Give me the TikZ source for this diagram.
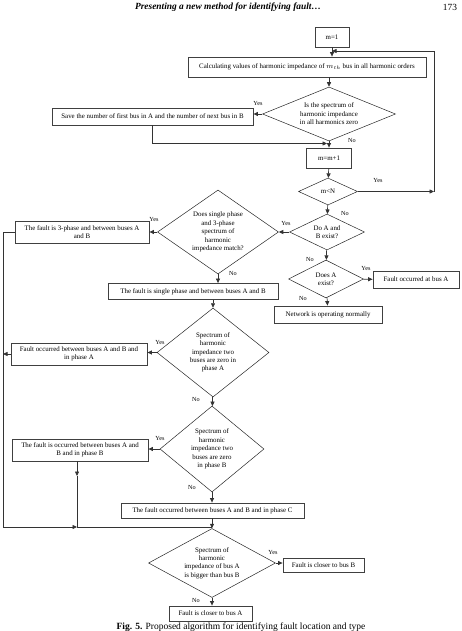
\documentclass[tikz,border=0pt]{standalone}
\usepackage{fontspec}
\setmainfont{Liberation Serif}
\usetikzlibrary{arrows.meta,shapes.geometric,calc}

\begin{document}
\begin{tikzpicture}[x=1pt,y=-1pt,
  font=\fontsize{6.9}{8.4}\selectfont,
  box/.style 2 args={draw=black!75,line width=.8pt,minimum width=#1pt,minimum height=#2pt,inner sep=1pt,align=center},
  decision/.style 2 args={diamond,draw=black!85,line width=.5pt,minimum width=#1pt,minimum height=#2pt,aspect=\fpeval{#1/#2},inner sep=0pt,align=center},
  lab/.style={font=\fontsize{6.2}{7}\selectfont,inner sep=0pt},
  head/.style={font=\fontsize{9.4}{10}\selectfont\bfseries\itshape},
  line/.style={draw=black!80,line width=.7pt},
  flow/.style={line,-{Triangle[length=4.5pt,width=4pt]}}]

\path[use as bounding box] (0,0) rectangle (461,631);
\node[head] (title) at (228,7) {Presenting a new method for identifying fault…};
\node[font=\fontsize{9.4}{10}\selectfont] (page) at (450,7) {173};

% main loop over the buses
\node[box={34}{20}] (m1) at (332,37) {m=1};
\node[box={238}{20}] (calc) at (307,67) {Calculating values of harmonic impedance of $m_{th}$ bus in all harmonic orders};
\node[decision={133}{54}] (d1) at (329,114) {Is the spectrum of\\harmonic impedance\\in all harmonics zero};
\node[box={201}{17}] (save) at (152.5,116.5) {Save the number of first bus in A and the number of next bus in B};
\node[box={45}{20}] (mm1) at (329,158) {m=m+1};
\node[decision={59}{27}] (mn) at (328,191.5) {m<N};
\node[decision={75}{36}] (dab) at (327,232) {Do A and\\B exist?};
\node[decision={75}{38}] (dex) at (326,279) {Does A\\exist?};
\node[box={86}{17}] (atA) at (416,279.5) {Fault occurred at bus A};
\node[box={108}{17}] (net) at (328,314.5) {Network is operating normally};

% fault type
\node[decision={121}{84}] (dsp) at (218,232) {Does single phase\\and 3-phase\\spectrum of\\harmonic\\impedance match?};
\node[box={134}{22}] (f3) at (82,232) {The fault is 3-phase and between buses A\\and B};
\node[box={170}{16}] (single) at (193,291.5) {The fault is single phase and between buses A and B};
\node[decision={112}{89}] (dpa) at (213,352.5) {Spectrum of\\harmonic\\impedance two\\buses are zero in\\phase A};
\node[box={136}{22}] (fA) at (79,354) {Fault occurred between buses A and B and\\in phase A};
\node[decision={104}{86}] (dpb) at (212,449) {Spectrum of\\harmonic\\impedance two\\buses are zero\\in phase B};
\node[box={136}{22}] (fB) at (80,450) {The fault is occurred between buses A and\\B and in phase B};
\node[box={183}{15}] (fC) at (212.5,510.5) {The fault occurred between buses A and B and in phase C};
\node[decision={127}{69}] (dfin) at (212,563) {Spectrum of\\harmonic\\impedance of bus A\\is bigger than bus B};
\node[box={81}{14}] (cB) at (323.5,565) {Fault is closer to bus B};
\node[box={83}{15}] (cA) at (210.5,613.5) {Fault is closer to bus A};

\coordinate (top) at (434,51);
\coordinate (rt) at (434,191.5);
\coordinate (js) at (327,143.5);
\coordinate (jl) at (3,527);
\coordinate (jb) at (77,527);
\coordinate (mb) at (77,476);
\coordinate (jf) at (212,527);

\draw[flow] (m1.south) -- (m1.south |- calc.north);
\draw[flow] (mn) -- (rt);
\draw[flow] (rt) -- (top) -- (top -| m1);
\draw[flow] (calc.south -| d1) -- (d1.north);
\draw[flow] (d1.west) -- (d1.west -| save.east);
\draw[flow] (save.south) |- (js);
\draw[flow] (d1.south) -- (mm1.north);
\draw[flow] (mm1) -- (mn);
\draw[flow] (mn) -- (dab);
\draw[flow] (dab) -- (dsp);
\draw[flow] (dab) -- (dex);
\draw[flow] (dex) -- (atA);
\draw[flow] (dex) -- (net);
\draw[flow] (dsp) -- (f3);
\draw[flow] (dsp.south) -- (dsp.south |- single.north);
\draw[flow] (dpa.north |- single.south) -- (dpa.north);
\draw[flow] (dpa.west) -- (dpa.west -| fA.east);
\draw[flow] (dpa) -- (dpb);
\draw[flow] (dpb.west) -- (dpb.west -| fB.east);
\draw[flow] (dpb.south) -- (dpb.south |- fC.north);
\draw[flow] (fC.south -| dfin) -- (dfin.north);
\draw[flow] (dfin.east) -- (dfin.east -| cB.west);
\draw[flow] (dfin.south) -- (dfin.south |- cA.north);
\draw[line] (f3.west) -| (jl);
\draw[flow] (jl) -- (jb);
\draw[line] (jb) -- (jf);
\draw[flow] (fA.west) -- (fA.west -| jl);
\draw[flow] (fB.south -| mb) -- (mb);
\draw[line] (mb) -- (jb);

% branch labels
\node[lab] (y1) at (258,104) {Yes};
\node[lab] (n1) at (352,141) {No};
\node[lab] (y2) at (378,181) {Yes};
\node[lab] (n2) at (345,213) {No};
\node[lab] (y3) at (286,223) {Yes};
\node[lab] (n3) at (310,259) {No};
\node[lab] (y4) at (366,268) {Yes};
\node[lab] (n4) at (303,298) {No};
\node[lab] (y5) at (154,219) {Yes};
\node[lab] (n5) at (233,273) {No};
\node[lab] (y6) at (160,342) {Yes};
\node[lab] (n6) at (196,399) {No};
\node[lab] (y7) at (160,438) {Yes};
\node[lab] (n7) at (192,487) {No};
\node[lab] (y8) at (273,552) {Yes};
\node[lab] (n8) at (196,600) {No};

\node[font=\fontsize{9.5}{10}\selectfont,anchor=base] (cap) at (241,629) {\textbf{Fig. 5.} Proposed algorithm for identifying fault location and type};

\end{tikzpicture}
\end{document}
